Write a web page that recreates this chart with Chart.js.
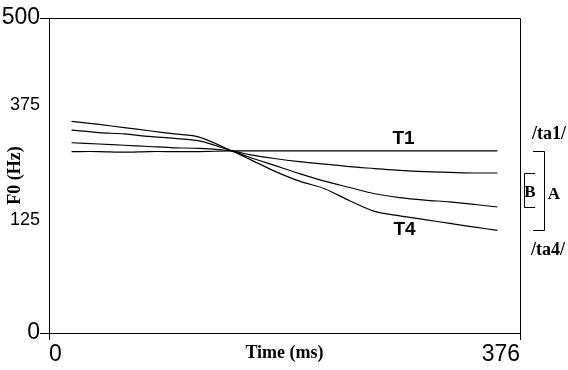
<!DOCTYPE html>
<html>
<head>
<meta charset="utf-8">
<script src="https://cdn.jsdelivr.net/npm/chart.js@4/dist/chart.umd.min.js"></script>
<style>
  body { margin: 0; background: #fff; }
</style>
</head>
<body>
<canvas id="f0Chart" width="568" height="370"></canvas>
<script>
// F0 contours of the /ta/ continuum
const timesMs = [18, 40, 60, 80, 100, 120, 146, 160, 180, 200, 220, 240, 260, 280, 300, 320, 340, 358];
const t1F0    = [288, 288, 287, 288, 288, 288, 289, 289, 289, 289, 289, 289, 289, 289, 289, 289, 289, 289];
const step2F0 = [302, 300, 298, 296, 294, 293, 289, 283, 277, 272, 268, 264, 261, 258, 256, 255, 254, 254];
const step3F0 = [322, 318, 316, 312, 309, 305, 289, 279, 266, 253, 241, 231, 221, 215, 211, 208, 204, 200];
const t4F0    = [336, 331, 326, 321, 316, 311, 289, 276, 257, 241, 229, 210, 193, 186, 180, 174, 168, 163];

const xTickValues = [0, 376];
const xTickLabels = ['0', '376'];
// the figure prints 375 / 125 where they sit, not at their true height
const yTickValues = [0, 179, 362, 500];
const yTickLabels = ['0', '125', '375', '500'];

const toPoints = arr => timesMs.map((t, i) => ({x: t, y: arr[i]}));
const last = arr => arr[arr.length - 1];
const px = v => Math.round(v) + 0.5;

const frameAndNotes = {
    id: "frameAndNotes",
    afterDraw: (chart) => {
        const {ctx, chartArea: {left, top, right, bottom}, scales: {x, y}} = chart;
        ctx.save();
        ctx.strokeStyle = "#000";
        ctx.lineWidth = 1;

        // top and right edges of the box
        ctx.beginPath();
        ctx.moveTo(left, px(top));
        ctx.lineTo(px(right), px(top));
        ctx.lineTo(px(right), bottom);
        ctx.stroke();

        const yT1 = y.getPixelForValue(last(t1F0));
        const yT4 = y.getPixelForValue(last(t4F0));
        const yS2 = y.getPixelForValue(last(step2F0));
        const yS3 = y.getPixelForValue(last(step3F0));

        // bracket A: T1 end to T4 end
        ctx.beginPath();
        ctx.moveTo(right + 13, px(yT1));
        ctx.lineTo(px(right + 24), px(yT1));
        ctx.lineTo(px(right + 24), px(yT4));
        ctx.lineTo(right + 13, px(yT4));
        ctx.stroke();
        // bracket B: the two middle steps
        ctx.beginPath();
        ctx.moveTo(right + 15, px(yS2));
        ctx.lineTo(px(right + 4), px(yS2));
        ctx.lineTo(px(right + 4), px(yS3));
        ctx.lineTo(right + 15, px(yS3));
        ctx.stroke();

        ctx.fillStyle = "#000";
        ctx.textAlign = "center";
        ctx.textBaseline = "middle";
        ctx.font = "bold 17px 'Liberation Serif'";
        ctx.fillText("A", right + 34, (yT1 + yT4) / 2 + 4);
        ctx.fillText("B", right + 10, (yS2 + yS3) / 2 + 3);

        ctx.font = "bold 18px 'Liberation Serif'";
        ctx.fillText("/ta1/", right + 29, yT1 - 17);
        ctx.fillText("/ta4/", right + 28, yT4 + 20);

        ctx.font = "bold 19px 'Liberation Sans'";
        const xLab = x.getPixelForValue(283);
        ctx.fillText("T1", xLab, yT1 - 12);
        ctx.fillText("T4", xLab + 1, yT4 - 1);
        ctx.restore();
    },
};

const lineStyle = {
    borderColor: "#000",
    borderWidth: 1.2,
    pointRadius: 0,
    tension: 0.3,
    fill: false,
};

new Chart(document.getElementById("f0Chart").getContext("2d"), {
    type: "line",
    data: {
        datasets: [
            {label: "T1", data: toPoints(t1F0), ...lineStyle},
            {label: "Step 2", data: toPoints(step2F0), ...lineStyle},
            {label: "Step 3", data: toPoints(step3F0), ...lineStyle},
            {label: "T4", data: toPoints(t4F0), ...lineStyle},
        ],
    },
    options: {
        responsive: false,
        animation: false,
        layout: {padding: {top: 18, right: 48, bottom: 0, left: 0}},
        plugins: {legend: {display: false}, tooltip: {enabled: false}},
        scales: {
            x: {
                type: "linear",
                min: 0,
                max: 376,
                afterBuildTicks: s => { s.ticks = xTickValues.map(v => ({value: v})); },
                afterFit: s => { s.height = 37; },
                border: {display: true, color: "#000", width: 1},
                grid: {drawOnChartArea: false, tickLength: 7, color: "#000"},
                ticks: {
                    align: "inner",
                    padding: 1,
                    maxRotation: 0,
                    color: "#000",
                    font: {family: "Liberation Sans", size: 23},
                    callback: v => xTickLabels[xTickValues.indexOf(v)],
                },
                title: {
                    display: true,
                    text: "Time (ms)",
                    color: "#000",
                    font: {family: "Liberation Serif", size: 18, weight: "bold"},
                    padding: {top: 0, bottom: 6},
                },
            },
            y: {
                type: "linear",
                min: 0,
                max: 500,
                afterBuildTicks: s => { s.ticks = yTickValues.map(v => ({value: v})); },
                afterFit: s => { s.width = 49; },
                border: {display: true, color: "#000", width: 1},
                grid: {
                    drawOnChartArea: false,
                    tickLength: 9,
                    color: c => (c.tick && (c.tick.value === 0 || c.tick.value === 500)) ? "#000" : "rgba(0,0,0,0)",
                },
                ticks: {
                    padding: 0,
                    color: "#000",
                    font: c => ({
                        family: "Liberation Sans",
                        size: (c.tick && (c.tick.value === 0 || c.tick.value === 500)) ? 23 : 18,
                    }),
                    callback: v => yTickLabels[yTickValues.indexOf(v)],
                },
                title: {
                    display: true,
                    text: "F0 (Hz)",
                    color: "#000",
                    font: {family: "Liberation Serif", size: 18, weight: "bold"},
                    padding: {top: 5, bottom: 0},
                },
            },
        },
    },
    plugins: [frameAndNotes],
});
</script>
</body>
</html>
